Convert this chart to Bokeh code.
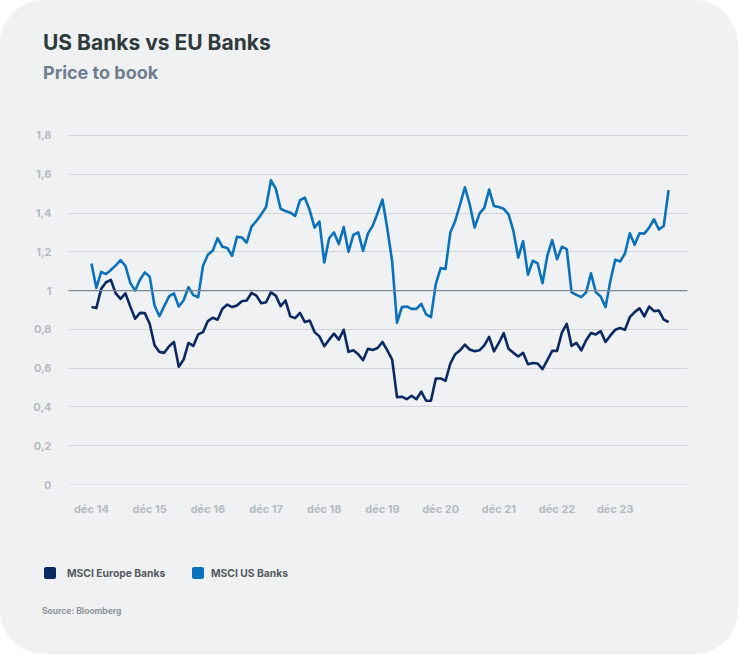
from bokeh.plotting import figure
from bokeh.models import Range1d, FixedTicker, Span, ColumnDataSource, Div
from bokeh.layouts import column
from bokeh.embed import file_html
from bokeh.resources import INLINE

# ---------------- data ----------------
title_text = "US Banks vs EU Banks"
subtitle_text = "Price to book"
source_text = "Source: Bloomberg"
series_names = ["MSCI Europe Banks", "MSCI US Banks"]

x_tick_labels = ["déc 14", "déc 15", "déc 16", "déc 17", "déc 18",
                 "déc 19", "déc 20", "déc 21", "déc 22", "déc 23"]
y_ticks = [0, 0.2, 0.4, 0.6, 0.8, 1, 1.2, 1.4, 1.6, 1.8]
y_tick_labels = ["0", "0,2", "0,4", "0,6", "0,8", "1", "1,2", "1,4", "1,6", "1,8"]

# monthly, Dec 2014 .. Nov 2024
europe_banks = [
    0.915, 0.91, 1.009, 1.043, 1.055, 0.986, 0.957, 0.986, 0.918, 0.855,
    0.885, 0.884, 0.829, 0.718, 0.684, 0.679, 0.713, 0.735, 0.607, 0.644,
    0.73, 0.715, 0.774, 0.786, 0.843, 0.86, 0.85, 0.906, 0.928,
    0.915, 0.923, 0.945, 0.949, 0.988, 0.974, 0.935, 0.94, 0.991, 0.974,
    0.92, 0.949, 0.867, 0.858, 0.885, 0.838, 0.846, 0.786, 0.764, 0.713,
    0.747, 0.778, 0.747, 0.798, 0.684, 0.692, 0.672, 0.641, 0.70, 0.694,
    0.704, 0.735, 0.692, 0.644, 0.45, 0.453, 0.44, 0.458, 0.44, 0.479,
    0.432, 0.432, 0.547, 0.547, 0.535, 0.624, 0.672, 0.692, 0.721, 0.696,
    0.687, 0.692, 0.718, 0.761, 0.687, 0.73, 0.781, 0.70, 0.679, 0.66,
    0.679, 0.62, 0.627, 0.624, 0.595, 0.641, 0.689, 0.689, 0.783, 0.829,
    0.715, 0.73, 0.692, 0.744, 0.781, 0.774, 0.791, 0.735, 0.769, 0.798,
    0.807, 0.798, 0.863, 0.889, 0.909, 0.867, 0.918, 0.894, 0.897, 0.85,
    0.838,
]
us_banks = [
    1.14, 1.014, 1.097, 1.085, 1.106, 1.13, 1.157, 1.128, 1.04, 1.0,
    1.056, 1.094, 1.072, 0.923, 0.868, 0.92, 0.97, 0.986, 0.918, 0.95,
    1.017, 0.977, 0.966, 1.128, 1.185, 1.205, 1.27, 1.226, 1.22,
    1.18, 1.277, 1.274, 1.248, 1.33, 1.359, 1.393, 1.431, 1.569, 1.526,
    1.422, 1.41, 1.402, 1.385, 1.467, 1.479, 1.414, 1.325, 1.356, 1.145,
    1.27, 1.30, 1.24, 1.328, 1.20, 1.287, 1.30, 1.205, 1.294, 1.335,
    1.40, 1.47, 1.32, 1.15, 0.835, 0.915, 0.918, 0.906, 0.906, 0.932,
    0.877, 0.863, 1.034, 1.116, 1.111, 1.30, 1.359, 1.444, 1.533, 1.444,
    1.325, 1.397, 1.427, 1.521, 1.436, 1.431, 1.422, 1.393, 1.308, 1.17,
    1.256, 1.082, 1.154, 1.14, 1.038, 1.18, 1.26, 1.162, 1.226, 1.214,
    0.991, 0.978, 0.966, 0.991, 1.089, 0.991, 0.97, 0.915, 1.051, 1.159,
    1.15, 1.191, 1.296, 1.236, 1.296, 1.294, 1.325, 1.368, 1.315, 1.333,
    1.518,
]
months = list(range(len(us_banks)))
x_ticks = [12 * k for k in range(len(x_tick_labels))]

# ---------------- layout ----------------
W = 738
TOP_H, PLOT_H, BOT_H = 105, 425, 124
X0, X1 = -4.74, 122.9
Y0, Y1 = -0.0515, 1.8515

CARD = "#eff1f3"
EU_COLOR = "#0b2a63"
US_COLOR = "#0a72bc"
FONT = "Inter"

header = Div(
    text=(f'<div style="position:relative;width:{W}px;height:{TOP_H}px;font-family:{FONT};font-weight:700;">'
          f'<div style="position:absolute;left:43px;top:32px;font-size:21px;line-height:1;color:#2f3a3b;white-space:nowrap;">{title_text}</div>'
          f'<div style="position:absolute;left:43px;top:63.5px;font-size:18px;line-height:1;color:#6f7e8f;white-space:nowrap;">{subtitle_text}</div>'
          '</div>'),
    width=W, height=TOP_H, margin=0)

p = figure(width=W, height=PLOT_H, output_backend="svg", toolbar_location=None, title=None,
           x_range=Range1d(X0, X1), y_range=Range1d(Y0, Y1),
           min_border_left=68, min_border_right=51,
           min_border_top=20, min_border_bottom=36, margin=0)
p.background_fill_color = CARD
p.border_fill_color = CARD
p.outline_line_color = None

p.yaxis.ticker = FixedTicker(ticks=y_ticks)
p.yaxis.major_label_overrides = dict(zip(y_ticks, y_tick_labels))
p.xaxis.ticker = FixedTicker(ticks=x_ticks)
p.xaxis.major_label_overrides = dict(zip(x_ticks, x_tick_labels))
for ax in (p.xaxis, p.yaxis):
    ax.axis_line_color = None
    ax.major_tick_line_color = None
    ax.minor_tick_line_color = None
    ax.major_label_text_font = FONT
    ax.major_label_text_font_style = "bold"
    ax.major_label_text_font_size = "11px"
    ax.major_label_text_color = "#b5bac2"
p.yaxis.major_label_standoff = 11
p.xaxis.major_label_standoff = 1

p.xgrid.visible = False
p.ygrid.grid_line_color = "#d2d5da"
p.ygrid.grid_line_width = 1

p.add_layout(Span(location=0, dimension="width", line_color="#e2e4e8", line_width=1))
p.add_layout(Span(location=1, dimension="width", line_color="#7b8899", line_width=1.2))

src = ColumnDataSource(dict(x=months, eu=europe_banks, us=us_banks))
p.line("x", "us", source=src, line_color=US_COLOR, line_width=2.6, line_join="round")
p.line("x", "eu", source=src, line_color=EU_COLOR, line_width=2.6, line_join="round")

def swatch(left, color):
    return (f'<div style="position:absolute;left:{left}px;top:37px;width:12px;height:12px;'
            f'border-radius:2px;background:{color};"></div>')

def legend_text(left, text):
    return (f'<div style="position:absolute;left:{left}px;top:35px;height:16px;line-height:16px;'
            f'font-size:10.3px;color:#55595f;white-space:nowrap;">{text}</div>')

footer = Div(
    text=(f'<div style="position:relative;width:{W}px;height:{BOT_H}px;font-family:{FONT};font-weight:700;">'
          + swatch(44, EU_COLOR) + legend_text(67, series_names[0])
          + swatch(192, US_COLOR) + legend_text(211, series_names[1])
          + f'<div style="position:absolute;left:42px;top:75px;height:12px;line-height:12px;'
            f'font-size:8.5px;color:#8e9399;white-space:nowrap;">{source_text}</div>'
          + '</div>'),
    width=W, height=BOT_H, margin=0)

layout = column(header, p, footer, spacing=0, width=W, height=TOP_H + PLOT_H + BOT_H,
                styles={"background-color": CARD, "border-radius": "44px", "overflow": "hidden"})

open("out.html", "w").write(file_html(layout, INLINE))
